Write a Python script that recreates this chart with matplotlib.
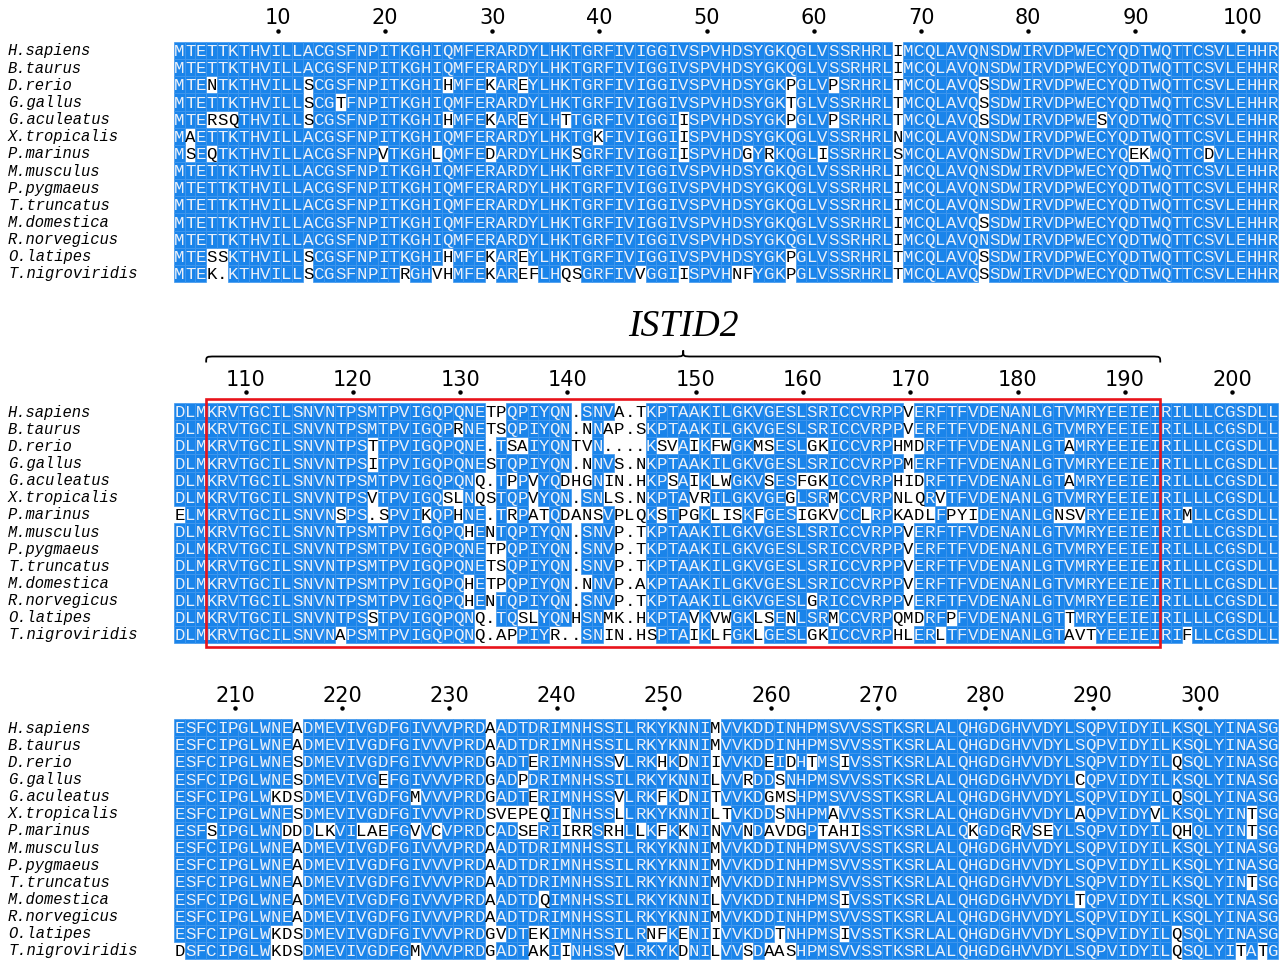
import matplotlib
matplotlib.use('Agg')
import matplotlib.pyplot as plt
from matplotlib.patches import Rectangle, PathPatch
from matplotlib.path import Path
from collections import Counter

species = ['H.sapiens', 'B.taurus', 'D.rerio', 'G.gallus', 'G.aculeatus',
           'X.tropicalis', 'P.marinus', 'M.musculus', 'P.pygmaeus',
           'T.truncatus', 'M.domestica', 'R.norvegicus', 'O.latipes',
           'T.nigroviridis']

block1 = [
    "MTETTKTHVILLACGSFNPITKGHIQMFERARDYLHKTGRFIVIGGIVSPVHDSYGKQGLVSSRHRLIMCQLAVQNSDWIRVDPWECYQDTWQTTCSVLEHHR",
    "MTETTKTHVILLACGSFNPITKGHIQMFERARDYLHKTGRFIVIGGIVSPVHDSYGKQGLVSSRHRLIMCQLAVQNSDWIRVDPWECYQDTWQTTCSVLEHHR",
    "MTENTKTHVILLSCGSFNPITKGHIHMFEKAREYLHKTGRFIVIGGIVSPVHDSYGKPGLVPSRHRLTMCQLAVQSSDWIRVDPWECYQDTWQTTCSVLEHHR",
    "MTETTKTHVILLSCGTFNPITKGHIQMFERARDYLHKTGRFIVIGGIVSPVHDSYGKTGLVSSRHRLTMCQLAVQSSDWIRVDPWECYQDTWQTTCSVLEHHR",
    "MTERSQTHVILLSCGSFNPITKGHIHMFEKAREYLHTTGRFIVIGGIISPVHDSYGKPGLVPSRHRLTMCQLAVQSSDWIRVDPWESYQDTWQTTCSVLEHHR",
    "MAETTKTHVILLACGSFNPITKGHIQMFERARDYLHKTGKFIVIGGIISPVHDSYGKQGLVSSRHRLNMCQLAVQNSDWIRVDPWECYQDTWQTTCSVLEHHR",
    "MSEQTKTHVILLACGSFNPVTKGHLQMFEDARDYLHKSGRFIVIGGIISPVHDGYRKQGLISSRHRLSMCQLAVQNSDWIRVDPWECYQEKWQTTCDVLEHHR",
    "MTETTKTHVILLACGSFNPITKGHIQMFERARDYLHKTGRFIVIGGIVSPVHDSYGKQGLVSSRHRLIMCQLAVQNSDWIRVDPWECYQDTWQTTCSVLEHHR",
    "MTETTKTHVILLACGSFNPITKGHIQMFERARDYLHKTGRFIVIGGIVSPVHDSYGKQGLVSSRHRLIMCQLAVQNSDWIRVDPWECYQDTWQTTCSVLEHHR",
    "MTETTKTHVILLACGSFNPITKGHIQMFERARDYLHKTGRFIVIGGIVSPVHDSYGKQGLVSSRHRLIMCQLAVQNSDWIRVDPWECYQDTWQTTCSVLEHHR",
    "MTETTKTHVILLACGSFNPITKGHIQMFERARDYLHKTGRFIVIGGIVSPVHDSYGKQGLVSSRHRLIMCQLAVQSSDWIRVDPWECYQDTWQTTCSVLEHHR",
    "MTETTKTHVILLACGSFNPITKGHIQMFERARDYLHKTGRFIVIGGIVSPVHDSYGKQGLVSSRHRLIMCQLAVQNSDWIRVDPWECYQDTWQTTCSVLEHHR",
    "MTESSKTHVILLSCGSFNPITKGHIHMFEKAREYLHKTGRFIVIGGIVSPVHDSYGKPGLVSSRHRLTMCQLAVQSSDWIRVDPWECYQDTWQTTCSVLEHHR",
    "MTEK.KTHVILLSCGSFNPITRGHVHMFEKAREFLHQSGRFIVVGGIISPVHNFYGKPGLVSSRHRLTMCQLAVQSSDWIRVDPWECYQDTWQTTCSVLEHHR",
]

block2 = [
    "DLMKRVTGCILSNVNTPSMTPVIGQPQNETPQPIYQN.SNVA.TKPTAAKILGKVGESLSRICCVRPPVERFTFVDENANLGTVMRYEEIEIRILLLCGSDLL",
    "DLMKRVTGCILSNVNTPSMTPVIGQPRNETSQPIYQN.NNAP.SKPTAAKILGKVGESLSRICCVRPPVERFTFVDENANLGTVMRYEEIEIRILLLCGSDLL",
    "DLMKRVTGCILSNVNTPSTTPVIGQPQNE.TSAIYQNTVN....KSVAIKFWGKMSESLGKICCVRPHMDRFTFVDENANLGTAMRYEEIEIRILLLCGSDLL",
    "DLMKRVTGCILSNVNTPSITPVIGQPQNESTQPIYQN.NNVS.NKPTAAKILGKVGESLSRICCVRPPMERFTFVDENANLGTVMRYEEIEIRILLLCGSDLL",
    "DLMKRVTGCILSNVNTPSMTPVIGQPQNQ.TPPVYQDHGNIN.HKPSAIKLWGKVSESFGKICCVRPHIDRFTFVDENANLGTAMRYEEIEIRILLLCGSDLL",
    "DLMKRVTGCILSNVNTPSVTPVIGQSLNQSTQPVYQN.SNLS.NKPTAVRILGKVGEGLSRMCCVRPNLQRVTFVDENANLGTVMRYEEIEIRILLLCGSDLL",
    "ELMKRVTGCILSNVNSPS.SPVIKQPHNE.TRPATQDANSVPLQKSTPGKLISKFGESIGKVCCLRPKADLFPYIDENANLGNSVRYEEIEIRIMLLCGSDLL",
    "DLMKRVTGCILSNVNTPSMTPVIGQPQHENTQPIYQN.SNVP.TKPTAAKILGKVGESLSRICCVRPPVERFTFVDENANLGTVMRYEEIEIRILLLCGSDLL",
    "DLMKRVTGCILSNVNTPSMTPVIGQPQNETPQPIYQN.SNVP.TKPTAAKILGKVGESLSRICCVRPPVERFTFVDENANLGTVMRYEEIEIRILLLCGSDLL",
    "DLMKRVTGCILSNVNTPSMTPVIGQPQNETSQPIYQN.SNVP.TKPTAAKILGKVGESLSRICCVRPPVERFTFVDENANLGTVMRYEEIEIRILLLCGSDLL",
    "DLMKRVTGCILSNVNTPSMTPVIGQPQHETPQPIYQN.NNVP.AKPTAAKILGKVGESLSRICCVRPPVERFTFVDENANLGTVMRYEEIEIRILLLCGSDLL",
    "DLMKRVTGCILSNVNTPSMTPVIGQPQHENTQPIYQN.SNVP.TKPTAAKILGKVGESLGRICCVRPPVERFTFVDENANLGTVMRYEEIEIRILLLCGSDLL",
    "DLMKRVTGCILSNVNTPSSTPVIGQPQNQ.TQSLYQNHSNMK.HKPTAVKVWGKLSENLSRMCCVRPQMDRFPFVDENANLGTTMRYEEIEIRILLLCGSDLL",
    "DLMKRVTGCILSNVNAPSMTPVIGQPQNQ.APPIYR..SNIN.HSPTAIKLFGKLGESLGKICCVRPHLERLTFVDENANLGTAVTYEEIEIRIFLLCGSDLL",
]

block3 = [
    "ESFCIPGLWNEADMEVIVGDFGIVVVPRDAADTDRIMNHSSILRKYKNNIMVVKDDINHPMSVVSSTKSRLALQHGDGHVVDYLSQPVIDYILKSQLYINASG",
    "ESFCIPGLWNEADMEVIVGDFGIVVVPRDAADTDRIMNHSSILRKYKNNIMVVKDDINHPMSVVSSTKSRLALQHGDGHVVDYLSQPVIDYILKSQLYINASG",
    "ESFCIPGLWNESDMEVIVGDFGIVVVPRDGADTERIMNHSSVLRKHKDNIIVVKDEIDHTMSIVSSTKSRLALQHGDGHVVDYLSQPVIDYILQSQLYINASG",
    "ESFCIPGLWNESDMEVIVGEFGIVVVPRDGADPDRIMNHSSILRKYKNNILVVRDDSNHPMSVVSSTKSRLALQHGDGHVVDYLCQPVIDYILKSQLYINASG",
    "ESFCIPGLWKDSDMEVIVGDFGMVVVPRDGADTERIMNHSSVLRKFKDNITVVKDGMSHPMSVVSSTKSRLALQHGDGHVVDYLSQPVIDYILQSQLYINASG",
    "ESFCIPGLWNESDMEVIVGDFGIVVVPRDSVEPEQIINHSSLLRKYKNNILTVKDDSNHPMAVVSSTKSRLALQHGDGHVVDYLAQPVIDYVLKSQLYINTSG",
    "ESFSIPGLWNDDDLKVILAEFGVVCVPRDCADSERIIRRSRHLLKFKKNINVVNDAVDGPTAHISSTKSRLALQKGDGRVSEYLSQPVIDYILQHQLYINTSG",
    "ESFCIPGLWNEADMEVIVGDFGIVVVPRDAADTDRIMNHSSILRKYKNNIMVVKDDINHPMSVVSSTKSRLALQHGDGHVVDYLSQPVIDYILKSQLYINASG",
    "ESFCIPGLWNEADMEVIVGDFGIVVVPRDAADTDRIMNHSSILRKYKNNIMVVKDDINHPMSVVSSTKSRLALQHGDGHVVDYLSQPVIDYILKSQLYINASG",
    "ESFCIPGLWNEADMEVIVGDFGIVVVPRDAADTDRIMNHSSILRKYKNNIMVVKDDINHPMSVVSSTKSRLALQHGDGHVVDYLSQPVIDYILKSQLYINTSG",
    "ESFCIPGLWNEADMEVIVGDFGIVVVPRDAADTDQIMNHSSILRKYKNNILVVKDDINHPMSIVSSTKSRLALQHGDGHVVDYLTQPVIDYILKSQLYINASG",
    "ESFCIPGLWNEADMEVIVGDFGIVVVPRDAADTDRIMNHSSILRKYKNNIMVVKDDINHPMSVVSSTKSRLALQHGDGHVVDYLSQPVIDYILKSQLYINASG",
    "ESFCIPGLWKDSDMEVIVGDFGIVVVPRDGVDTEKIMNHSSILRNFKENIIVVKDDTNHPMSIVSSTKSRLALQHGDGHVVDYLSQPVIDYILQSQLYINASG",
    "DSFCIPGLWKDSDMEVIVGDFGMVVVPRDGADTAKIINHSSVLRKYKDNILVVSDAASHPMSVVSSTKSRLALQHGDGHVVDYLSQPVIDYILQSQLYITATG",
]

blocks = [block1, block2, block3]
for blk in blocks:
    for s in blk:
        assert len(s) == 103, (len(s), s)

domain_name = 'ISTID2'
domain_block = 1          # second line of the alignment
domain_cols = (4, 92)     # first and last column (1-based) of the domain

# layout (pixels)
X0 = 174.0
CW = 10.72
RH = 17.15
block_y = [50.5, 411.5, 727.5]
BLUE = '#1a84ea'
SEQFONT = 'Liberation Mono'

fig = plt.figure(figsize=(12.86, 9.6), dpi=100)
ax = fig.add_axes([0, 0, 1, 1])
ax.set_xlim(0, 1286)
ax.set_ylim(960, 0)
ax.axis('off')

resnum = 0
for b, seqs in enumerate(blocks):
    y0 = block_y[b]
    nrow = len(seqs)
    for c in range(len(seqs[0])):
        col = [s[c] for s in seqs]
        counts = Counter(ch for ch in col if ch != '.')
        top, n = counts.most_common(1)[0]
        cons = top if n > nrow / 2 else None
        x = X0 + c * CW
        for r, ch in enumerate(col):
            y = y0 + r * RH
            if ch == cons:
                ax.add_patch(Rectangle((x, y - RH / 2), CW, RH, facecolor=BLUE,
                                       edgecolor='#3f97ee', lw=0.5))
                tc = '#e9eff8'
            else:
                tc = 'black'
            ax.text(x + CW / 2, y + 5.6, ch, ha='center', va='baseline',
                    family=SEQFONT, fontsize=12.5, color=tc)

    for r, name in enumerate(species):
        ax.text(8, y0 + r * RH + 5, name, ha='left', va='baseline',
                family=SEQFONT, style='italic', fontsize=11.2)

    # ruler numbered after the first sequence (gaps not counted)
    for c, ch in enumerate(seqs[0]):
        if ch == '.':
            continue
        resnum += 1
        if resnum % 10 == 0:
            xc = X0 + (c + 0.5) * CW + 2
            ax.text(xc, y0 - 26, str(resnum), ha='center', va='baseline',
                    fontsize=15)
            ax.plot(xc, y0 - 19.5, 'o', color='black', ms=2.2)

# domain box and brace
xa = X0 + (domain_cols[0] - 1) * CW
xb = X0 + domain_cols[1] * CW
yd = block_y[domain_block]
ax.add_patch(Rectangle((xa, yd - RH / 2 - 4), xb - xa, 14 * RH + 8,
                       fill=False, edgecolor='#e8131b', lw=1.9, zorder=5))

xm = (xa + xb) / 2
yb, ymid, ytip = yd - 49, yd - 55, yd - 61
r = 9
verts = [(xa, yb), (xa, ymid), (xa, ymid), (xa + r, ymid),
         (xm - r, ymid),
         (xm, ymid), (xm, ymid), (xm, ytip),
         (xm, ymid), (xm, ymid), (xm + r, ymid),
         (xb - r, ymid),
         (xb, ymid), (xb, ymid), (xb, yb)]
codes = [Path.MOVETO, Path.CURVE4, Path.CURVE4, Path.CURVE4,
         Path.LINETO,
         Path.CURVE4, Path.CURVE4, Path.CURVE4,
         Path.CURVE4, Path.CURVE4, Path.CURVE4,
         Path.LINETO,
         Path.CURVE4, Path.CURVE4, Path.CURVE4]
ax.add_patch(PathPatch(Path(verts, codes), fill=False, lw=1.3, edgecolor='black'))
ax.text(xm, yd - 75, domain_name, ha='center', va='baseline',
        family='Liberation Serif', style='italic', fontsize=27)

fig.savefig('out.png', dpi=100)
